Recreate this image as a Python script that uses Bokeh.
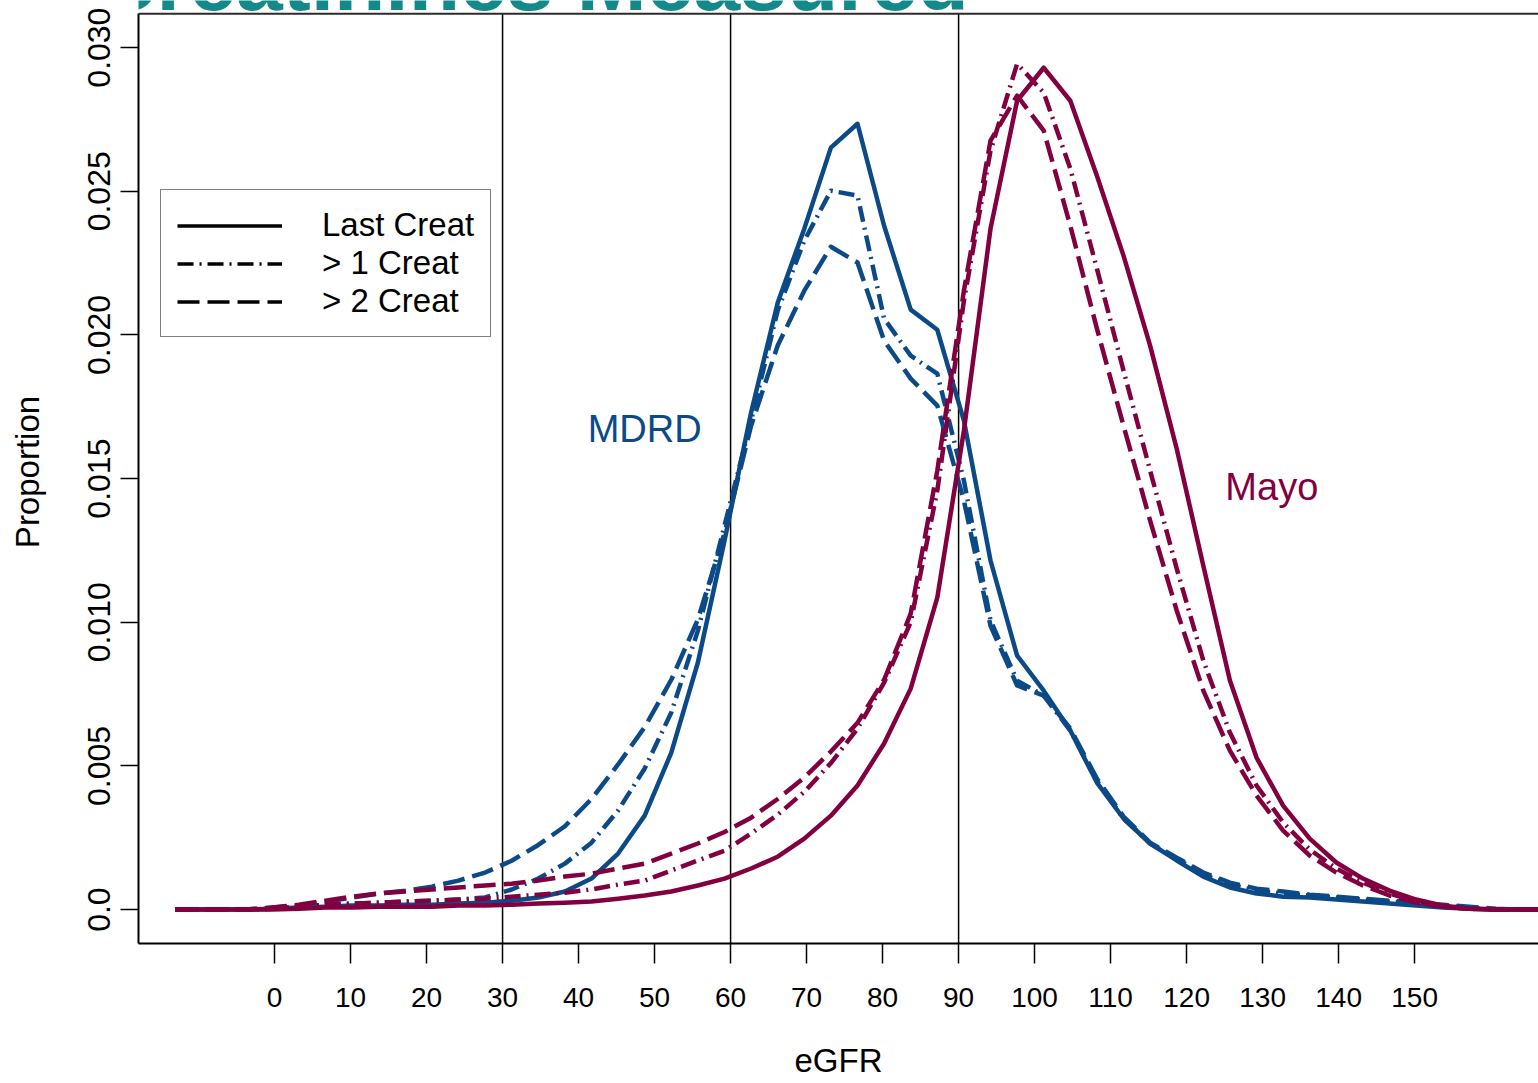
from bokeh.plotting import figure
from bokeh.models import (Range1d, FixedTicker, NumeralTickFormatter, Span, Label,
                          Legend, LegendItem)
from bokeh.embed import file_html
from bokeh.resources import INLINE

# eGFR bin positions (mL/min/1.73m2)
egfr = [-13.1, -10.8, -7.3, -3.8, -0.3, 3.2, 6.7, 10.2, 13.7, 17.2, 20.7, 24.2, 27.7,
        31.2, 34.7, 38.2, 41.7, 45.2, 48.7, 52.2, 55.7, 59.2, 62.7, 66.2, 69.7, 73.2,
        76.7, 80.2, 83.7, 87.2, 90.7, 94.2, 97.7, 101.2, 104.7, 108.2, 111.7, 115.2,
        118.7, 122.2, 125.7, 129.2, 132.7, 136.2, 139.7, 143.2, 146.7, 150.2, 153.7,
        157.2, 160.7, 164.2, 167.7]

# MDRD estimates: proportion of patients per bin
mdrd_last = [0, 0, 0, 0, 0.00003, 0.00007, 0.00010, 0.00014, 0.00014, 0.00017, 0.00017,
             0.00021, 0.00024, 0.00031, 0.00042, 0.00063, 0.00108, 0.00195, 0.00327,
             0.00546, 0.00860, 0.01284, 0.01730, 0.02112, 0.02370, 0.02652, 0.02735,
             0.02380, 0.02088, 0.02018, 0.01702, 0.01215, 0.00884, 0.00762, 0.00623,
             0.00442, 0.00317, 0.00230, 0.00171, 0.00115, 0.00077, 0.00056, 0.00045,
             0.00042, 0.00035, 0.00028, 0.00021, 0.00014, 0.00007, 0.00003, 0, 0, 0]
mdrd_gt1 = [0, 0, 0, 0, 0.00003, 0.00010, 0.00017, 0.00021, 0.00024, 0.00028, 0.00031,
            0.00035, 0.00042, 0.00070, 0.00108, 0.00160, 0.00233, 0.00345, 0.00491,
            0.00686, 0.00971, 0.01336, 0.01702, 0.02085, 0.02328, 0.02502, 0.02485,
            0.02057, 0.01928, 0.01865, 0.01493, 0.01006, 0.00797, 0.00745, 0.00623,
            0.00449, 0.00317, 0.00230, 0.00177, 0.00122, 0.00087, 0.00066, 0.00056,
            0.00049, 0.00042, 0.00035, 0.00028, 0.00021, 0.00014, 0.00007, 0, 0, 0]
mdrd_gt2 = [0, 0, 0, 0, 0.00007, 0.00014, 0.00028, 0.00042, 0.00056, 0.00066, 0.00080,
            0.00101, 0.00129, 0.00170, 0.00225, 0.00290, 0.00385, 0.00505, 0.00635,
            0.00800, 0.01010, 0.01310, 0.01684, 0.01963, 0.02154, 0.02307, 0.02252,
            0.01980, 0.01848, 0.01754, 0.01423, 0.00988, 0.00780, 0.00745, 0.00630,
            0.00456, 0.00324, 0.00233, 0.00181, 0.00129, 0.00094, 0.00073, 0.00063,
            0.00052, 0.00045, 0.00038, 0.00031, 0.00024, 0.00017, 0.00010, 0.00003, 0, 0]

# Mayo estimates
mayo_last = [0, 0, 0, 0, 0, 0.00003, 0.00007, 0.00007, 0.00010, 0.00010, 0.00010,
             0.00014, 0.00014, 0.00017, 0.00021, 0.00024, 0.00028, 0.00038, 0.00049,
             0.00063, 0.00084, 0.00108, 0.00143, 0.00184, 0.00247, 0.00327, 0.00432,
             0.00578, 0.00769, 0.01086, 0.01667, 0.02370, 0.02815, 0.02930, 0.02815,
             0.02554, 0.02276, 0.01963, 0.01604, 0.01197, 0.00797, 0.00529, 0.00362,
             0.00247, 0.00164, 0.00108, 0.00066, 0.00035, 0.00014, 0.00003, 0, 0, 0]
mayo_gt1 = [0, 0, 0, 0, 0.00003, 0.00010, 0.00017, 0.00021, 0.00024, 0.00028, 0.00031,
            0.00035, 0.00038, 0.00045, 0.00052, 0.00059, 0.00070, 0.00087, 0.00101,
            0.00136, 0.00171, 0.00205, 0.00265, 0.00330, 0.00410, 0.00510, 0.00630,
            0.00790, 0.01000, 0.01458, 0.02119, 0.02641, 0.02944, 0.02843, 0.02579,
            0.02231, 0.01876, 0.01528, 0.01187, 0.00867, 0.00616, 0.00432, 0.00303,
            0.00209, 0.00143, 0.00094, 0.00056, 0.00028, 0.00010, 0.00003, 0, 0, 0]
mayo_gt2 = [0, 0, 0, 0, 0.00007, 0.00017, 0.00031, 0.00045, 0.00056, 0.00063, 0.00070,
            0.00077, 0.00084, 0.00090, 0.00101, 0.00115, 0.00125, 0.00143, 0.00160,
            0.00195, 0.00230, 0.00270, 0.00320, 0.00385, 0.00460, 0.00550, 0.00650,
            0.00800, 0.01030, 0.01528, 0.02154, 0.02676, 0.02833, 0.02711, 0.02380,
            0.02022, 0.01684, 0.01354, 0.01041, 0.00762, 0.00553, 0.00397, 0.00275,
            0.00188, 0.00129, 0.00084, 0.00049, 0.00024, 0.00010, 0.00003, 0, 0, 0]

x_ticks = [0, 10, 20, 30, 40, 50, 60, 70, 80, 90, 100, 110, 120, 130, 140, 150]
y_ticks = [0.0, 0.005, 0.010, 0.015, 0.020, 0.025, 0.030]
ckd_cutoffs = [30, 60, 90]
legend_labels = ["Last Creat", "> 1 Creat", "> 2 Creat"]

FONT = "Liberation Sans"
BLUE = "#0b4a87"
MAROON = "#82003f"
DASHES = ["solid", "16 6 2 6", "22 8"]
LW = 4.5

Y_LOW = -0.00118      # bottom of the plot box
Y_BOX_TOP = 0.03118   # top of the plot box
Y_CANVAS_TOP = 0.03164  # a strip above the box holds the slide heading

p = figure(width=1538, height=1083, output_backend="svg", toolbar_location=None,
           title=None, x_range=Range1d(-17.9, 166.3),
           y_range=Range1d(Y_LOW, Y_CANVAS_TOP),
           min_border_left=138, min_border_right=0, min_border_top=0,
           min_border_bottom=140)
p.grid.visible = False
p.outline_line_color = None
p.background_fill_color = "white"
p.border_fill_color = "white"

# axes
xa = p.xaxis[0]
xa.ticker = FixedTicker(ticks=x_ticks)
xa.axis_label = "eGFR"
xa.axis_label_text_font = FONT
xa.axis_label_text_font_size = "33px"
xa.axis_label_text_font_style = "normal"
xa.axis_label_text_color = "black"
xa.axis_label_standoff = 32
xa.major_label_text_font = FONT
xa.major_label_text_font_size = "28px"
xa.major_label_text_color = "black"
xa.major_label_standoff = 24
xa.major_tick_in = 0
xa.major_tick_out = 20
xa.major_tick_line_width = 1.5
xa.minor_tick_line_color = None
xa.axis_line_width = 2

ya = p.yaxis[0]
ya.ticker = FixedTicker(ticks=y_ticks)
ya.bounds = (Y_LOW, Y_BOX_TOP)
ya.formatter = NumeralTickFormatter(format="0.000")
ya.major_label_overrides = {0: "0.0"}
ya.major_label_orientation = "vertical"
ya.axis_label = "Proportion"
ya.axis_label_text_font = FONT
ya.axis_label_text_font_size = "33px"
ya.axis_label_text_font_style = "normal"
ya.axis_label_text_color = "black"
ya.axis_label_standoff = 40
ya.major_label_text_font = FONT
ya.major_label_text_font_size = "32px"
ya.major_label_text_color = "black"
ya.major_label_standoff = 10
ya.major_tick_in = 0
ya.major_tick_out = 18
ya.major_tick_line_width = 1.5
ya.minor_tick_line_color = None
ya.axis_line_width = 2

# top edge of the plot box
p.add_layout(Span(location=Y_BOX_TOP, dimension="width", line_color="#2b2b2b", line_width=2))

# CKD stage cut-offs, running up to the box top
p.segment(x0=ckd_cutoffs, y0=[Y_LOW] * 3, x1=ckd_cutoffs, y1=[Y_BOX_TOP] * 3,
          line_color="black", line_width=1.5)

# curves
for series, dash in zip([mdrd_last, mdrd_gt1, mdrd_gt2], DASHES):
    p.line(egfr, series, line_color=BLUE, line_width=LW, line_dash=dash, line_join="round")
for series, dash in zip([mayo_last, mayo_gt1, mayo_gt2], DASHES):
    p.line(egfr, series, line_color=MAROON, line_width=LW, line_dash=dash, line_join="round")

# curve names
p.add_layout(Label(x=41.2, y=0.01674, text="MDRD", text_color=BLUE, text_font=FONT,
                   text_font_size="38px", text_baseline="middle"))
p.add_layout(Label(x=125.1, y=0.01472, text="Mayo", text_color=MAROON, text_font=FONT,
                   text_font_size="38px", text_baseline="middle"))

# slide heading, mostly above the page
p.add_layout(Label(x=-23.5, y=0.03233, text="Creatinines Measured", text_color="#13898a",
                   text_font=FONT, text_font_size="84px", text_font_style="bold",
                   text_baseline="middle"))

# legend keys: black copies of the MDRD curves on a range that keeps them off the frame
p.extra_y_ranges = {"keys": Range1d(1, 2)}
keys = [p.line(egfr, s, y_range_name="keys", line_color="black", line_width=3.5, line_dash=d)
        for s, d in zip([mdrd_last, mdrd_gt1, mdrd_gt2], DASHES)]
legend = Legend(items=[LegendItem(label=l, renderers=[r]) for l, r in zip(legend_labels, keys)],
                location=(22, 606), border_line_color="black", border_line_width=1.5,
                background_fill_color="white", background_fill_alpha=1,
                label_text_font=FONT, label_text_font_size="33px", label_text_color="black",
                glyph_width=105, glyph_height=37, label_height=37, label_standoff=40,
                padding=16, spacing=0, margin=0)
p.add_layout(legend)

open("out.html", "w").write(file_html(p, INLINE))
